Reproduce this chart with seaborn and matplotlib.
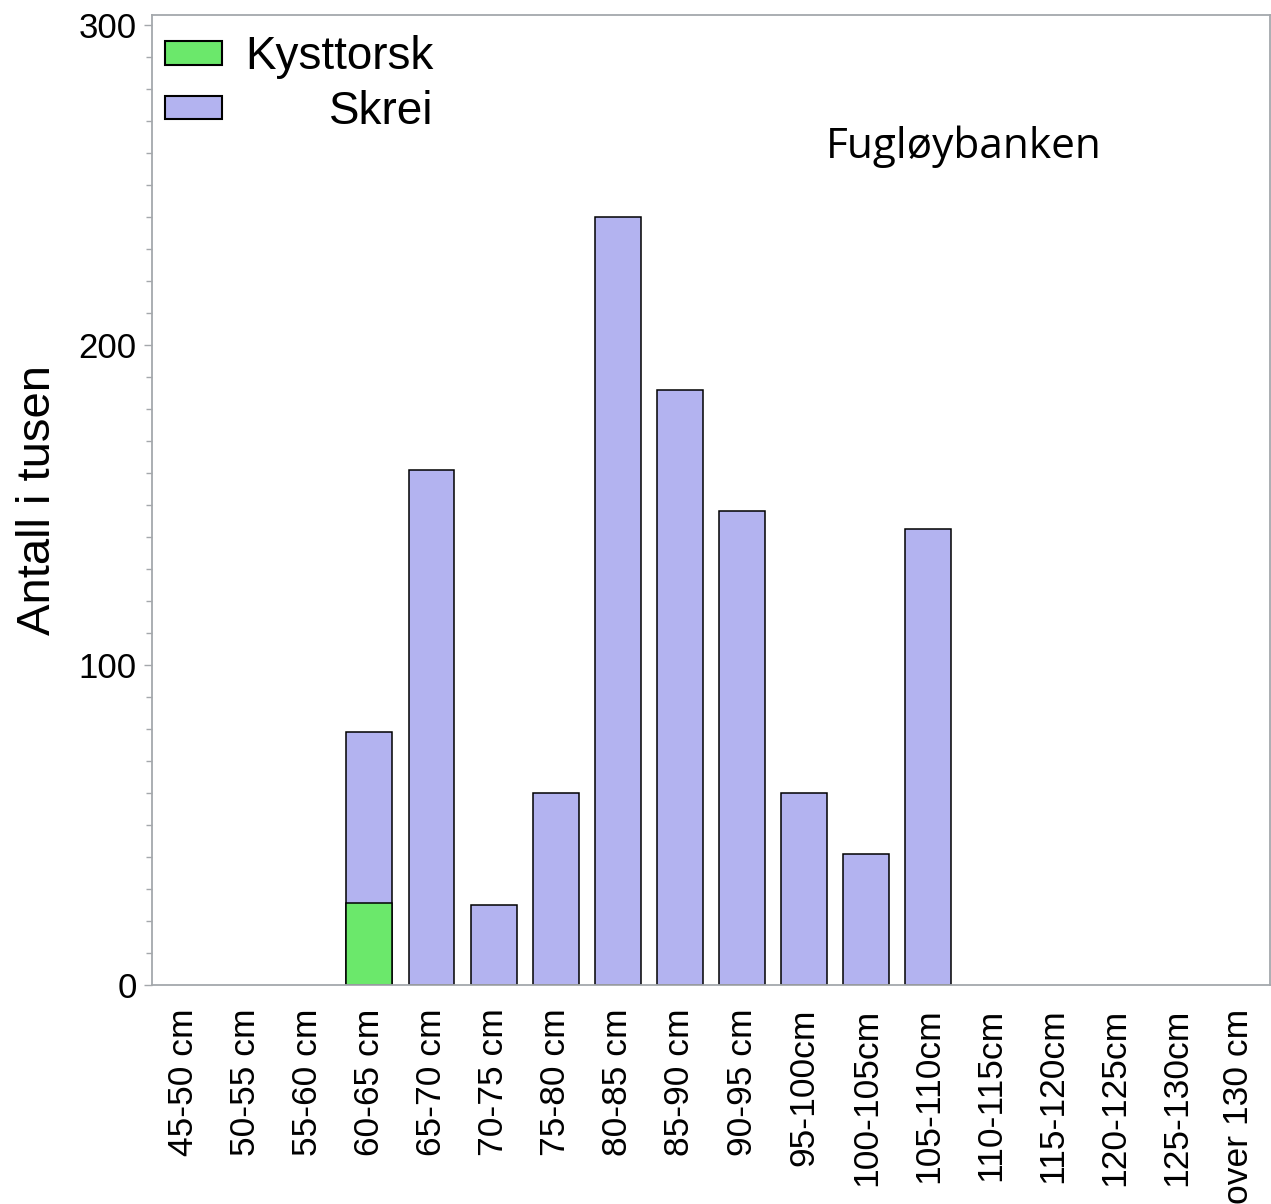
import matplotlib
matplotlib.use("Agg")
import matplotlib.pyplot as plt
import seaborn as sns
import pandas as pd
import numpy as np
from matplotlib.patches import Patch
from matplotlib.ticker import MultipleLocator

categories = ["45-50 cm", "50-55 cm", "55-60 cm", "60-65 cm", "65-70 cm", "70-75 cm",
              "75-80 cm", "80-85 cm", "85-90 cm", "90-95 cm", "95-100cm", "100-105cm",
              "105-110cm", "110-115cm", "115-120cm", "120-125cm", "125-130cm", "over 130 cm"]
kysttorsk = [0, 0, 0, 25.5, 0, 0, 0, 0, 0, 0, 0, 0, 0, 0, 0, 0, 0, 0]
skrei = [0, 0, 0, 53.5, 161, 25, 60, 240, 186, 148, 60, 41, 142.5, 0, 0, 0, 0, 0]
series_names = ["Kysttorsk", "Skrei"]
title_text = "Fugløybanken"
ylabel_text = "Antall i tusen"

green = "#6BE86B"
purple = "#B3B3F0"
spine_gray = "#A4A8AC"

sns.set_style("white")
plt.rcParams["font.family"] = ["Liberation Sans", "DejaVu Sans"]
plt.rcParams["text.color"] = "black"
plt.rcParams["axes.labelcolor"] = "black"
plt.rcParams["xtick.color"] = "black"
plt.rcParams["ytick.color"] = "black"

df = pd.DataFrame({"kat": categories, "kyst": kysttorsk, "skrei": skrei})
df["total"] = df["kyst"] + df["skrei"]

fig = plt.figure(figsize=(12.71, 12.04), dpi=100)
W, H = 1271, 1204
ax = fig.add_axes([152 / W, 1 - 985 / H, (1270 - 152) / W, (985 - 15) / H])

sns.barplot(data=df, x="kat", y="total", color=purple, saturation=1, width=0.74,
            edgecolor="black", linewidth=1.1, ax=ax, order=categories)
sns.barplot(data=df, x="kat", y="kyst", color=green, saturation=1, width=0.74,
            edgecolor="black", linewidth=1.1, ax=ax, order=categories)

for p in ax.patches:
    if p.get_height() == 0:
        p.set_visible(False)

ax.set_xlim(-0.5, len(categories) - 0.5)
ax.set_ylim(0, 303)
ax.set_yticks([0, 100, 200, 300])
ax.yaxis.set_minor_locator(MultipleLocator(10))
ax.tick_params(axis="y", which="major", left=True, length=6, width=1, color=spine_gray,
               labelcolor="black", labelsize=25, pad=5)
ax.tick_params(axis="y", which="minor", left=True, length=4, width=1, color=spine_gray)
ax.tick_params(axis="x", length=0, labelsize=25.5, labelcolor="black", pad=17)
ax.set_xticks(range(len(categories)))
ax.set_xticklabels(categories, rotation=90)
ax.set_xlabel("")
ax.set_ylabel(ylabel_text, fontsize=34, color="black")
ax.yaxis.set_label_coords(-0.082, 0.5)

for s in ax.spines.values():
    s.set_visible(True)
    s.set_color(spine_gray)
    s.set_linewidth(1.3)

handles = [Patch(facecolor=green, edgecolor="black", linewidth=1.5),
           Patch(facecolor=purple, edgecolor="black", linewidth=1.5)]
leg = ax.legend(handles, series_names, loc="upper left", bbox_to_anchor=(0.0116, 0.979),
                borderaxespad=0, borderpad=0, frameon=False, fontsize=33,
                handlelength=1.25, handleheight=0.4, handletextpad=0.5, labelspacing=0.23)
for t in leg.get_texts():
    t.set_color("black")

ax.text(0.603, 0.853, title_text, transform=ax.transAxes, fontsize=30.5,
        family=["Open Sans", "DejaVu Sans"], ha="left", va="baseline", color="black")

fig.canvas.draw()
r = fig.canvas.get_renderer()
t0, t1 = leg.get_texts()
e0 = t0.get_window_extent(r)
e1 = t1.get_window_extent(r)
t1.set_visible(False)
fig.text(e0.x1 / W, (e1.y0 + e1.y1) / 2 / H, series_names[1], fontsize=33,
         ha="right", va="center", color="black")

fig.savefig("out.png", dpi=100)
